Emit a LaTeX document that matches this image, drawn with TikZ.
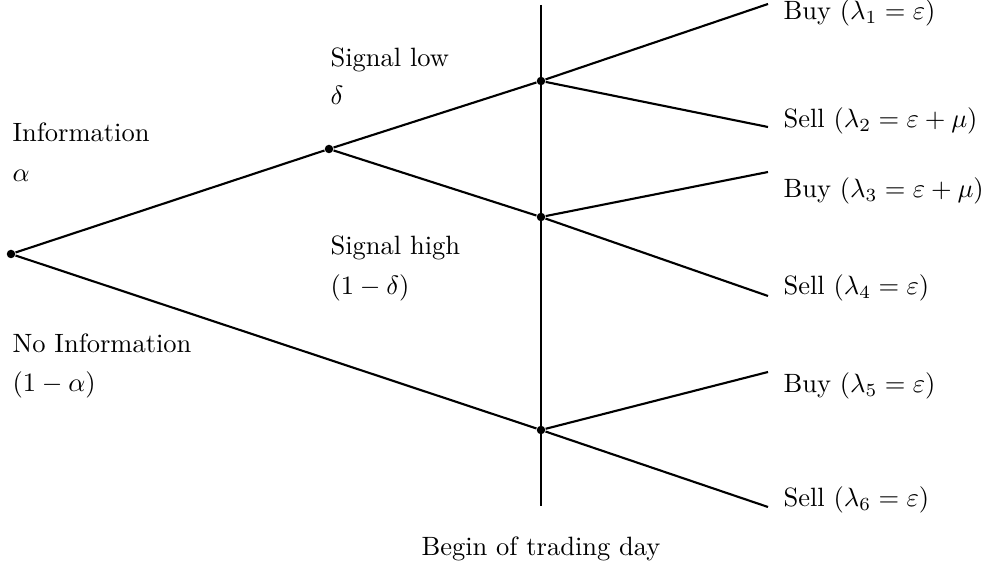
\documentclass[tikz,border=0pt]{standalone}
\usepackage{amsmath,amssymb}
\usepackage{tikz}
\usetikzlibrary{positioning}

\begin{document}
\begin{tikzpicture}[
  x=0.3775pt, y=-0.3775pt,
  dot/.style={circle, fill=black, inner sep=0pt, minimum size=3.2pt},
  branch/.style={line width=0.8pt, color=black},
  lbl/.style={anchor=base west, inner sep=0pt},
  daylbl/.style={anchor=base, inner sep=0pt}
]
  \useasboundingbox (0,0) rectangle (986,572);

  %% ── Tree nodes ────────────────────────────────────────────────────
  \node[dot] (root) at (11,254) {};
  \node[dot] (sig)  at (329,149) {};
  \node[dot] (up)   at (541,81) {};
  \node[dot] (mid)  at (541,217) {};
  \node[dot] (low)  at (541,430) {};

  %% ── Trading day line and leaf ends ────────────────────────────────
  \coordinate (dayT) at (541,5);
  \coordinate (dayB) at (541,506);
  \coordinate (e1) at (768,4);
  \coordinate (e2) at (768,127);
  \coordinate (e3) at (768,172);
  \coordinate (e4) at (768,296);
  \coordinate (e5) at (768,372);
  \coordinate (e6) at (768,507);

  %% ── Branches ──────────────────────────────────────────────────────
  \draw[branch] (dayT) -- (dayB);
  \draw[branch] (root) -- (sig);
  \draw[branch] (root) -- (low);
  \draw[branch] (sig)  -- (up);
  \draw[branch] (sig)  -- (mid);
  \draw[branch] (up)   -- (e1);
  \draw[branch] (up)   -- (e2);
  \draw[branch] (mid)  -- (e3);
  \draw[branch] (mid)  -- (e4);
  \draw[branch] (low)  -- (e5);
  \draw[branch] (low)  -- (e6);

  %% ── Branch labels ─────────────────────────────────────────────────
  \node[lbl] (info)   at (12,142)  {Information};
  \node[lbl] (alpha)  at (12,182)  {$\alpha$};
  \node[lbl] (noinfo) at (12,353)  {No Information};
  \node[lbl] (nalpha) at (12,392)  {$(1-\alpha)$};
  \node[lbl] (slow)   at (330,67)  {Signal low};
  \node[lbl] (delta)  at (330,105) {$\delta$};
  \node[lbl] (shigh)  at (330,255) {Signal high};
  \node[lbl] (ndelta) at (330,295) {$(1-\delta)$};

  %% ── Leaf labels ───────────────────────────────────────────────────
  \node[lbl] (buy1)  at (783,20)  {Buy ($\lambda_1 = \varepsilon$)};
  \node[lbl] (sell2) at (783,128) {Sell ($\lambda_2 = \varepsilon + \mu$)};
  \node[lbl] (buy3)  at (783,198) {Buy ($\lambda_3 = \varepsilon + \mu$)};
  \node[lbl] (sell4) at (783,295) {Sell ($\lambda_4 = \varepsilon$)};
  \node[lbl] (buy5)  at (783,393) {Buy ($\lambda_5 = \varepsilon$)};
  \node[lbl] (sell6) at (783,507) {Sell ($\lambda_6 = \varepsilon$)};

  \node[daylbl] (day) at (541,556) {Begin of trading day};
\end{tikzpicture}
\end{document}
